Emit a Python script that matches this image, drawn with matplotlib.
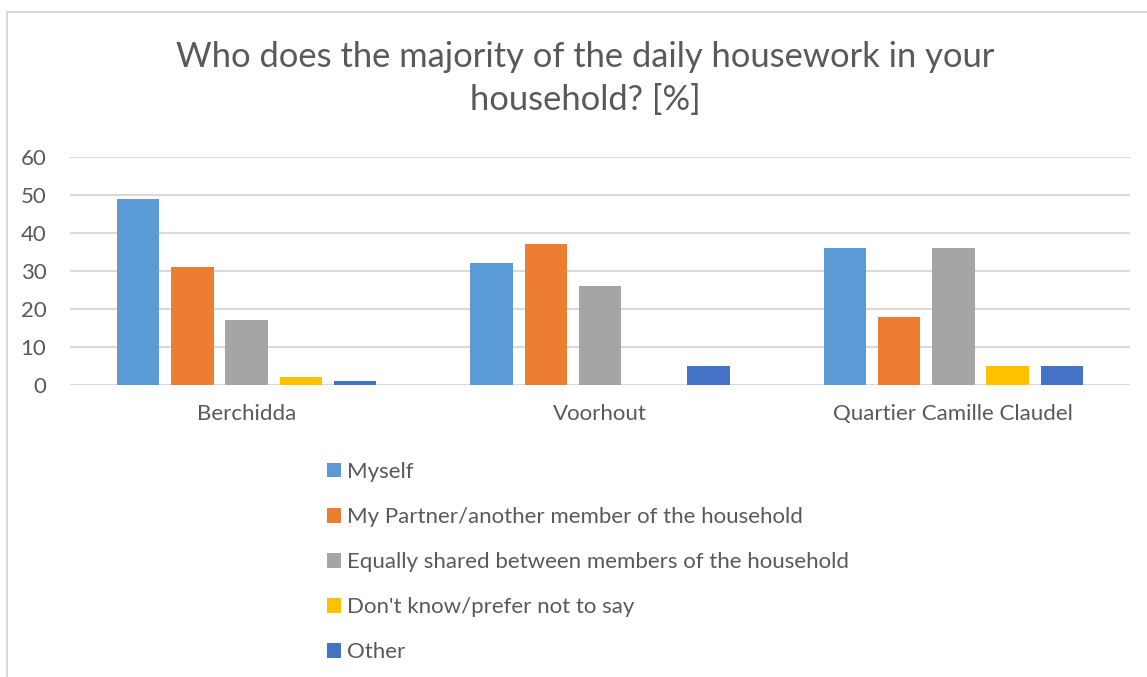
import numpy as np
import matplotlib
matplotlib.use("Agg")
import matplotlib.pyplot as plt
from matplotlib.lines import Line2D

# survey answers per site, in percent
sites = ["Berchidda", "Voorhout", "Quartier Camille Claudel"]
answers = ["Myself",
           "My Partner/another member of the household",
           "Equally shared between members of the household",
           "Don't know/prefer not to say",
           "Other"]
myself = [49, 32, 36]
partner = [31, 37, 18]
shared = [17, 26, 36]
dont_know = [2, 0, 5]
other = [1, 5, 5]

colors = ["#5B9BD5", "#ED7D31", "#A5A5A5", "#FFC000", "#4472C4"]
text_col = "#595959"
grid_col = "#D9D9D9"

plt.rcParams['font.family'] = ['Lato', 'DejaVu Sans']

fig = plt.figure(figsize=(11.47, 6.77), dpi=100)
ax = fig.add_axes([70 / 1147, 1 - 385 / 677, 1060 / 1147, 228 / 677])

x = np.arange(len(sites))
w = 0.12        # bar width
step = 0.1534   # distance between neighbouring bars
series = [myself, partner, shared, dont_know, other]
for i, vals in enumerate(series):
    ax.bar(x + (i - 2) * step, vals, w, color=colors[i], label=answers[i], zorder=3)

ax.set_xlim(-0.5, 2.5)
ax.set_ylim(0, 60)
ax.set_yticks(range(0, 61, 10))
ax.set_xticks(x)
ax.set_xticklabels(sites)
ax.yaxis.grid(True, color=grid_col, linewidth=1.5, zorder=0)
ax.tick_params(axis='both', length=0, labelsize=16, labelcolor=text_col)
ax.tick_params(axis='y', pad=17)
ax.tick_params(axis='x', pad=14)
for s in ax.spines.values():
    s.set_visible(False)

fig.text(0.51, 1 - 57 / 677, "Who does the majority of the daily housework in your",
         ha='center', va='center', fontsize=24.8, color=text_col)
fig.text(0.51, 1 - 100 / 677, "household? [%]",
         ha='center', va='center', fontsize=24.8, color=text_col)

leg = ax.legend(loc='upper left', bbox_to_anchor=(327 / 1147, 1 - 462 / 677),
                bbox_transform=fig.transFigure, frameon=False, fontsize=16,
                handlelength=0.63, handleheight=0.63, handletextpad=0.27,
                labelspacing=1.13, borderpad=0, borderaxespad=0)
for t in leg.get_texts():
    t.set_color(text_col)

# chart area border (top and left visible)
fig.add_artist(Line2D([7 / 1147, 1], [1 - 12 / 677, 1 - 12 / 677],
                      transform=fig.transFigure, color=grid_col, linewidth=1.5))
fig.add_artist(Line2D([7 / 1147, 7 / 1147], [0, 1 - 12 / 677],
                      transform=fig.transFigure, color=grid_col, linewidth=1.5))

fig.savefig("out.png", dpi=100, facecolor="white")
